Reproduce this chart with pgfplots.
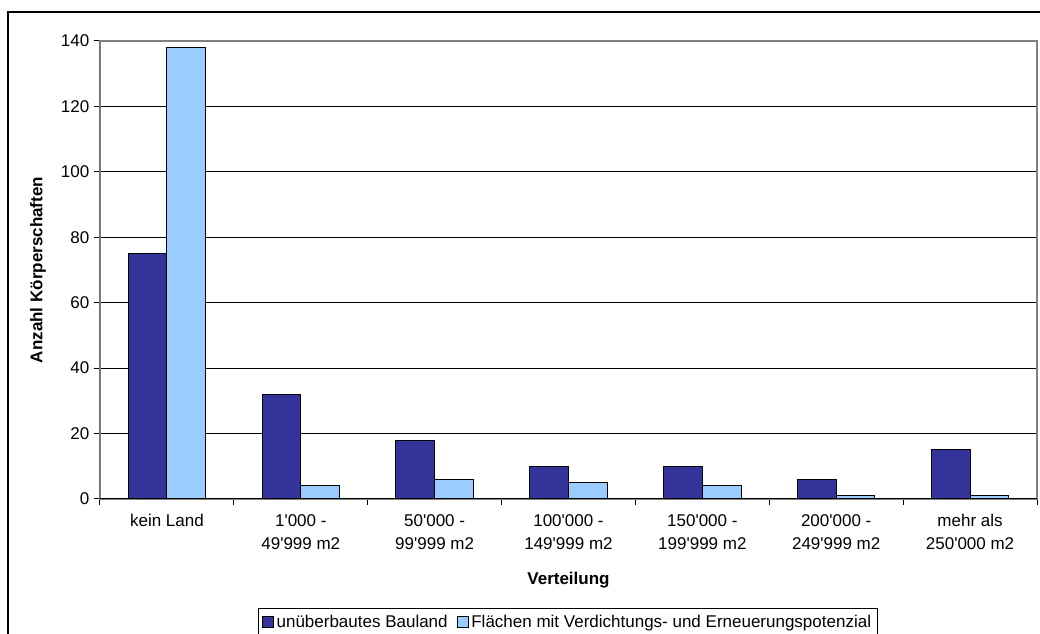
\documentclass[border=0pt]{standalone}
\usepackage{fontspec}
\setmainfont{Liberation Sans}[Ligatures=TeXOff]
\usepackage{pgfplots}
\pgfplotsset{compat=1.18}
\definecolor{darkbar}{HTML}{333399}
\definecolor{lightbar}{HTML}{99CCFF}
\newcommand{\lbl}{\fontsize{12.75}{17.25}\selectfont}
\begin{document}
\begin{tikzpicture}
\draw[black, line width=1.1pt] (6pt,-20pt) -- (6pt,466.5pt) -- (800pt,466.5pt);
\begin{axis}[
  at={(75pt,101.25pt)}, anchor=south west,
  scale only axis, width=702.75pt, height=343.5pt,
  ymin=0, ymax=140, ytick={0,20,...,140},
  xmin=-0.5, xmax=6.5,
  xtick={-0.5,0.5,...,6.5}, xticklabels={},
  extra x ticks={0,1,2,3,4,5,6},
  extra x tick labels={kein Land, {1'000 -\\49'999 m2}, {50'000 -\\99'999 m2}, {100'000 -\\149'999 m2}, {150'000 -\\199'999 m2}, {200'000 -\\249'999 m2}, {mehr als\\250'000 m2}},
  extra x tick style={major tick length=0pt},
  tick pos=left, tick align=outside, major tick length=4.5pt,
  tick style={black, line width=0.75pt},
  /pgf/number format/assume math mode=true,
  ticklabel style={font=\lbl},
  xticklabel style={align=center, yshift=-8pt},
  ymajorgrids, major grid style={black, line width=0.6pt},
  axis line style={draw=gray, line width=1.1pt},
  ybar=0pt, bar width=29pt,
  ylabel={\textbf{Anzahl Körperschaften}},
  ylabel style={at={(axis description cs:-0.0662,0.5)}, anchor=center, font=\lbl},
  xlabel={\textbf{Verteilung}},
  xlabel style={at={(axis description cs:0.5,-0.177)}, anchor=center, font=\lbl},
  legend columns=2,
  legend style={at={(axis description cs:0.4995,-0.238)}, anchor=north, draw=black, line width=0.75pt, font=\lbl, inner sep=3pt,
    /tikz/every even column/.append style={column sep=5pt}},
  legend image code/.code={\draw[#1, draw=black, line width=0.75pt] (0pt,-4pt) rectangle (8pt,4pt);},
]
\addplot[fill=darkbar, draw=black, line width=0.75pt] coordinates {(0,75) (1,32) (2,18) (3,10) (4,10) (5,6) (6,15)};
\addplot[fill=lightbar, draw=black, line width=0.75pt] coordinates {(0,138) (1,4) (2,6) (3,5) (4,4) (5,1) (6,1)};
\legend{unüberbautes Bauland, Flächen mit Verdichtungs- und Erneuerungspotenzial}
\draw[black, line width=0.75pt] (axis cs:-0.5,0) -- (axis cs:6.5,0);
\draw[black, line width=0.75pt] (axis cs:-0.5,0) -- (axis cs:-0.5,140);
\end{axis}
\pgfresetboundingbox
\path (0,0) rectangle (780pt,475.5pt);
\end{tikzpicture}
\end{document}
